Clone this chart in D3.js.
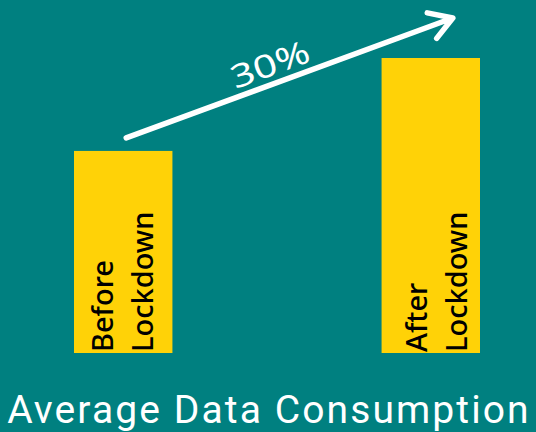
<!DOCTYPE html>
<html>
<head>
<meta charset="utf-8">
<script src="https://cdn.jsdelivr.net/npm/d3@7"></script>
<style>
  html, body { margin: 0; padding: 0; background: #008080; }
  svg { display: block; }
</style>
</head>
<body>
<div id="chart"></div>
<script>
// data (relative units, after = 100)
const categories = ["Before Lockdown", "After Lockdown"];
const values = [68.5, 100];
const labelLines = [["Before", "Lockdown"], ["After", "Lockdown"]];
const changeLabel = "30%";
const title = "Average Data Consumption";

const width = 536;
const height = 432;

const svg = d3.select("#chart")
    .append("svg")
    .attr("width", width)
    .attr("height", height);

svg.append("rect")
    .attr("width", width)
    .attr("height", height)
    .attr("fill", "#008080");

const x = d3.scaleBand()
    .domain(categories)
    .range([74, 480])
    .paddingInner(0.68)
    .paddingOuter(0);

const y = d3.scaleLinear()
    .domain([0, 100])
    .range([353, 58]);

svg.selectAll(".bar")
    .data(categories)
    .enter().append("rect")
    .attr("class", "bar")
    .attr("x", d => x(d))
    .attr("y", (d, i) => y(values[i]))
    .attr("width", x.bandwidth())
    .attr("height", (d, i) => y(0) - y(values[i]))
    .attr("fill", "#ffd207");

// rotated labels inside the bars
const labelShift = [-10, -4];
categories.forEach((c, i) => {
    const cx = x(c) + x.bandwidth() / 2 + labelShift[i];
    labelLines[i].forEach((line, j) => {
        svg.append("text")
            .attr("transform", `translate(${cx + j * 40},${y(0) - 1}) rotate(-90)`)
            .attr("font-family", "'Noto Sans', sans-serif")
            .attr("font-size", 29)
            .attr("font-weight", 500)
            .attr("fill", "#000")
            .text(line);
    });
});

// arrow from first bar to second
const x0 = x(categories[0]) + x.bandwidth() / 2 + 3;
const y0 = y(values[0]) - 13;
const x1 = x(categories[1]) + x.bandwidth() / 2 + 22;
const y1 = y(values[1]) - 40;
const ang = Math.atan2(y1 - y0, x1 - x0);
const head = 26;
const spread = 0.55;

svg.append("path")
    .attr("d", `M${x0},${y0}L${x1},${y1}` +
        `M${x1 - head * Math.cos(ang - spread)},${y1 - head * Math.sin(ang - spread)}L${x1},${y1}` +
        `L${x1 - head * Math.cos(ang + spread)},${y1 - head * Math.sin(ang + spread)}`)
    .attr("fill", "none")
    .attr("stroke", "#fff")
    .attr("stroke-width", 5.5)
    .attr("stroke-linecap", "round")
    .attr("stroke-linejoin", "round");

svg.append("text")
    .attr("transform", `translate(274,75) rotate(${ang * 180 / Math.PI})`)
    .attr("text-anchor", "middle")
    .attr("font-family", "'Noto Sans', sans-serif")
    .attr("font-size", 32)
    .attr("textLength", 82)
    .attr("lengthAdjust", "spacingAndGlyphs")
    .attr("fill", "#fff")
    .text(changeLabel);

svg.append("text")
    .attr("x", 269)
    .attr("y", 423)
    .attr("text-anchor", "middle")
    .attr("font-family", "Roboto, sans-serif")
    .attr("font-size", 39)
    .attr("letter-spacing", 2.1)
    .attr("fill", "#fff")
    .text(title);
</script>
</body>
</html>
